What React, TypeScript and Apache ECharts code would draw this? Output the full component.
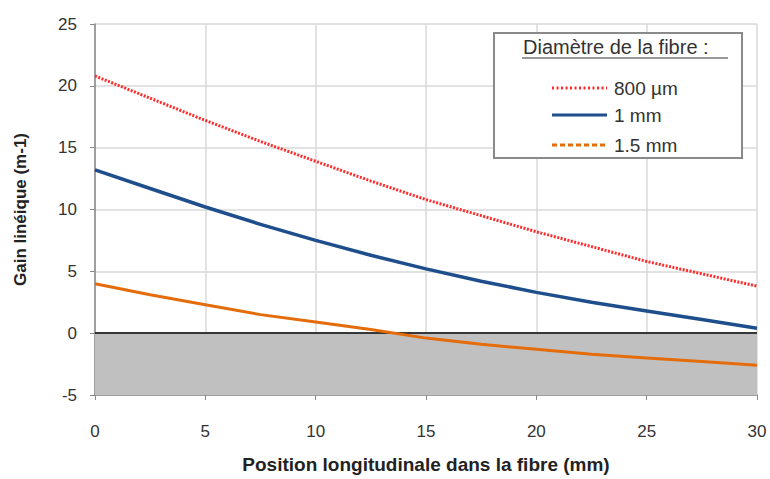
import React, { useEffect, useRef } from "react";
import * as echarts from "echarts";

const positions = [0, 2.5, 5, 7.5, 10, 12.5, 15, 17.5, 20, 22.5, 25, 27.5, 30];
const gain800um = [20.8, 19.0, 17.2, 15.5, 13.9, 12.3, 10.8, 9.5, 8.2, 7.0, 5.8, 4.8, 3.8];
const gain1mm = [13.2, 11.7, 10.2, 8.8, 7.5, 6.3, 5.2, 4.2, 3.3, 2.5, 1.8, 1.1, 0.4];
const gain15mm = [4.0, 3.1, 2.3, 1.5, 0.9, 0.3, -0.4, -0.9, -1.3, -1.7, -2.0, -2.3, -2.6];
const seriesNames = ["800 µm", "1 mm", "1.5 mm"];
const seriesColors = ["#ff2a2a", "#1f4e8c", "#e46c0a"];
const legendDashes = [[2, 2.5], null, [5, 3]];
const legendTitle = "Diamètre de la fibre :";
const xTitle = "Position longitudinale dans la fibre (mm)";
const yTitle = "Gain linéique (m-1)";

const FONT = "Liberation Sans, Arial, sans-serif";

export default function App() {
  const ref = useRef<HTMLDivElement>(null);
  useEffect(() => {
    if (!ref.current) return;
    const chart = echarts.init(ref.current, undefined, { renderer: "svg" });
    const pairs = (ys: number[]) => positions.map((x, i) => [x, ys[i]]);

    const legendRows = [88, 115, 145];
    const legendGraphics: any[] = [
      {
        type: "rect",
        shape: { x: 494, y: 33, width: 248, height: 125 },
        style: { fill: "#ffffff", stroke: "#8a8a8a", lineWidth: 2 },
        z: 10,
      },
      {
        type: "text",
        x: 523,
        y: 37,
        style: { text: legendTitle, fontFamily: FONT, fontSize: 20, fill: "#333" },
        z: 11,
      },
      {
        type: "line",
        shape: { x1: 522, y1: 58, x2: 728, y2: 58 },
        style: { stroke: "#333", lineWidth: 1.2 },
        z: 11,
      },
    ];
    seriesNames.forEach((name, i) => {
      legendGraphics.push({
        type: "line",
        shape: { x1: 552, y1: legendRows[i], x2: 607, y2: legendRows[i] },
        style: {
          stroke: seriesColors[i],
          lineWidth: 3,
          lineDash: legendDashes[i] || undefined,
        },
        z: 11,
      });
      legendGraphics.push({
        type: "text",
        x: 614,
        y: legendRows[i],
        style: {
          text: name,
          fontFamily: FONT,
          fontSize: 19,
          fill: "#333",
          verticalAlign: "middle",
        },
        z: 11,
      });
    });

    chart.setOption({
      animation: false,
      backgroundColor: "#ffffff",
      textStyle: { fontFamily: FONT },
      grid: { left: 95, right: 13, top: 24, bottom: 84, show: false },
      xAxis: {
        type: "value",
        min: 0,
        max: 30,
        interval: 5,
        name: xTitle,
        nameLocation: "middle",
        nameGap: 60,
        nameTextStyle: { fontFamily: FONT, fontSize: 19, fontWeight: "bold", color: "#222" },
        axisLine: { show: true, onZero: false, lineStyle: { color: "#888", width: 1.5 } },
        axisTick: { show: true, length: 5, lineStyle: { color: "#888" } },
        axisLabel: { margin: 28, fontFamily: FONT, fontSize: 17, color: "#333" },
        splitLine: { show: true, lineStyle: { color: "#d9d9d9", width: 1.5 } },
      },
      yAxis: {
        type: "value",
        min: -5,
        max: 25,
        interval: 5,
        name: yTitle,
        nameLocation: "middle",
        nameGap: 66,
        nameRotate: 90,
        nameTextStyle: { fontFamily: FONT, fontSize: 17, fontWeight: "bold", color: "#222" },
        axisLine: { show: true, lineStyle: { color: "#888", width: 1.5 } },
        axisTick: { show: true, length: 5, lineStyle: { color: "#888" } },
        axisLabel: { margin: 18, fontFamily: FONT, fontSize: 17, color: "#333" },
        splitLine: { show: true, lineStyle: { color: "#d9d9d9", width: 1.5 } },
      },
      graphic: legendGraphics,
      series: [
        {
          name: seriesNames[0],
          type: "line",
          data: pairs(gain800um),
          showSymbol: false,
          lineStyle: { color: seriesColors[0], width: 3, type: [2, 1.5] },
          itemStyle: { color: seriesColors[0] },
          z: 5,
        },
        {
          name: seriesNames[1],
          type: "line",
          data: pairs(gain1mm),
          showSymbol: false,
          lineStyle: { color: seriesColors[1], width: 3.5 },
          itemStyle: { color: seriesColors[1] },
          z: 5,
        },
        {
          name: seriesNames[2],
          type: "line",
          data: pairs(gain15mm),
          showSymbol: false,
          lineStyle: { color: seriesColors[2], width: 3 },
          itemStyle: { color: seriesColors[2] },
          z: 5,
          markArea: {
            silent: true,
            itemStyle: { color: "#c0c0c0" },
            data: [[{ yAxis: -5 }, { yAxis: 0 }]],
          },
          markLine: {
            silent: true,
            symbol: "none",
            label: { show: false },
            lineStyle: { color: "#000", width: 1.5, type: "solid" },
            data: [{ yAxis: 0 }],
          },
        },
      ],
    });
    return () => chart.dispose();
  }, []);
  return (
    <div
      ref={ref}
      style={{ position: "fixed", left: 0, top: 0, width: 770, height: 479 }}
    />
  );
}
